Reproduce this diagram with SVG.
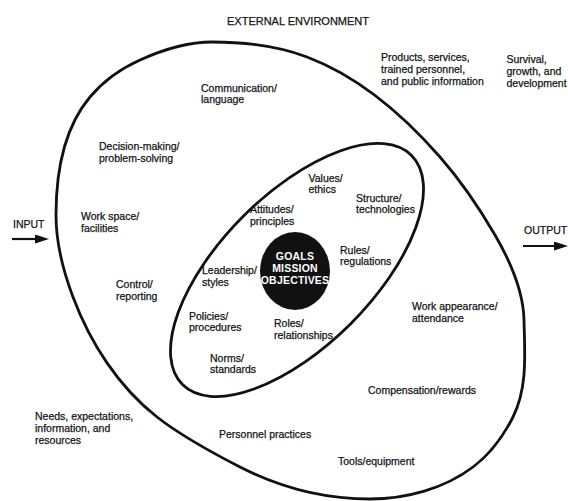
<svg xmlns="http://www.w3.org/2000/svg" width="568" height="501" viewBox="0 0 568 501">
  <defs>
    <style>
      .t { font-family: "Liberation Sans", Arial, Helvetica, sans-serif; font-size: 10.5px; fill: #141414; stroke: #141414; stroke-width: 0.25; }
      .cap { font-size: 11px; }
      .core { font-family: "Liberation Sans", Arial, Helvetica, sans-serif; font-size: 10.5px; font-weight: bold; fill: #ffffff; text-anchor: middle; letter-spacing: 0.2px; }
      .ring { fill: none; stroke: #111; stroke-width: 2.8; }
      .arrow { stroke: #111; stroke-width: 2.2; fill: none; marker-end: url(#head); }
    </style>
    <marker id="head" markerUnits="userSpaceOnUse" markerWidth="15" markerHeight="10" refX="8" refY="4.5" orient="auto">
      <path d="M0,0 L14,4.5 L0,9 Z" fill="#111"/>
    </marker>
  </defs>
  <rect width="568" height="501" fill="#ffffff"/>

  <g id="external-environment">
    <text class="t cap" x="227" y="24.5">EXTERNAL ENVIRONMENT</text>
  </g>

  <g id="organization-boundary">
    <path class="ring" d="M212,42 C244,42 277,45.7 307,57 C358.5,76.4 403.8,115.6 440,157 C461.1,181.1 478.9,207.3 495,235 C510.1,261 523.4,290 524,320 C524.7,353 527.9,387.5 513,417 C503.5,435.8 489.8,454.4 473,467 C444.3,488.7 406,499 370,499 C325,499 280.1,487.5 240,467 C211.5,452.4 182.2,436.7 157,417 C118.4,386.8 90.2,342.9 73,297 C63.1,270.8 56,243 56,215 C56,174 63.6,128.4 90,97 C103.5,80.9 120.8,68.6 140,60 C162.8,49.7 187,42 212,42 Z"/>
  </g>

  <g id="culture-boundary">
    <ellipse class="ring" cx="297" cy="270" rx="162" ry="76" transform="rotate(-45 297 270)"/>
  </g>

  <g id="core">
    <ellipse cx="295" cy="271" rx="35" ry="39" fill="#111"/>
    <text class="core" x="295" y="259.5">GOALS</text>
    <text class="core" x="295" y="271.5">MISSION</text>
    <text class="core" x="295" y="283.5">OBJECTIVES</text>
  </g>

  <g id="connectors">
    <line class="arrow" x1="12" y1="239" x2="43" y2="239"/>
    <line class="arrow" x1="523" y1="246" x2="562" y2="246"/>
  </g>

  <g id="input"><text class="t" x="13" y="227.5">INPUT</text></g>
  <g id="output"><text class="t" x="524" y="234">OUTPUT</text></g>

  <g id="communication"><text class="t" x="201" y="91.5">Communication/</text><text class="t" x="201" y="103">language</text></g>
  <g id="decision-making"><text class="t" x="99" y="149.5">Decision-making/</text><text class="t" x="99" y="161.5">problem-solving</text></g>
  <g id="work-space"><text class="t" x="81" y="220">Work space/</text><text class="t" x="81" y="232">facilities</text></g>
  <g id="control"><text class="t" x="116" y="288">Control/</text><text class="t" x="116" y="300">reporting</text></g>
  <g id="attitudes"><text class="t" x="250" y="212.5">Attitudes/</text><text class="t" x="250" y="224.5">principles</text></g>
  <g id="values"><text class="t" x="308.5" y="181.5">Values/</text><text class="t" x="308.5" y="193">ethics</text></g>
  <g id="structure"><text class="t" x="356" y="201.5">Structure/</text><text class="t" x="356" y="213">technologies</text></g>
  <g id="rules"><text class="t" x="340" y="253.5">Rules/</text><text class="t" x="340" y="265">regulations</text></g>
  <g id="leadership"><text class="t" x="202" y="274">Leadership/</text><text class="t" x="202" y="285.5">styles</text></g>
  <g id="policies"><text class="t" x="189" y="320">Policies/</text><text class="t" x="189" y="331">procedures</text></g>
  <g id="roles"><text class="t" x="274" y="327">Roles/</text><text class="t" x="274" y="339">relationships</text></g>
  <g id="norms"><text class="t" x="210" y="362">Norms/</text><text class="t" x="210" y="373">standards</text></g>
  <g id="products"><text class="t" x="381" y="61">Products, services,</text><text class="t" x="381" y="73">trained personnel,</text><text class="t" x="381" y="85">and public information</text></g>
  <g id="survival"><text class="t" x="506.5" y="63">Survival,</text><text class="t" x="506.5" y="75">growth, and</text><text class="t" x="506.5" y="87">development</text></g>
  <g id="work-appearance"><text class="t" x="412" y="310">Work appearance/</text><text class="t" x="412" y="322">attendance</text></g>
  <g id="compensation"><text class="t" x="368" y="393.5">Compensation/rewards</text></g>
  <g id="personnel-practices"><text class="t" x="219" y="437.5">Personnel practices</text></g>
  <g id="tools"><text class="t" x="338" y="464.5">Tools/equipment</text></g>
  <g id="needs"><text class="t" x="35" y="420">Needs, expectations,</text><text class="t" x="35" y="432">information, and</text><text class="t" x="35" y="444">resources</text></g>
</svg>
